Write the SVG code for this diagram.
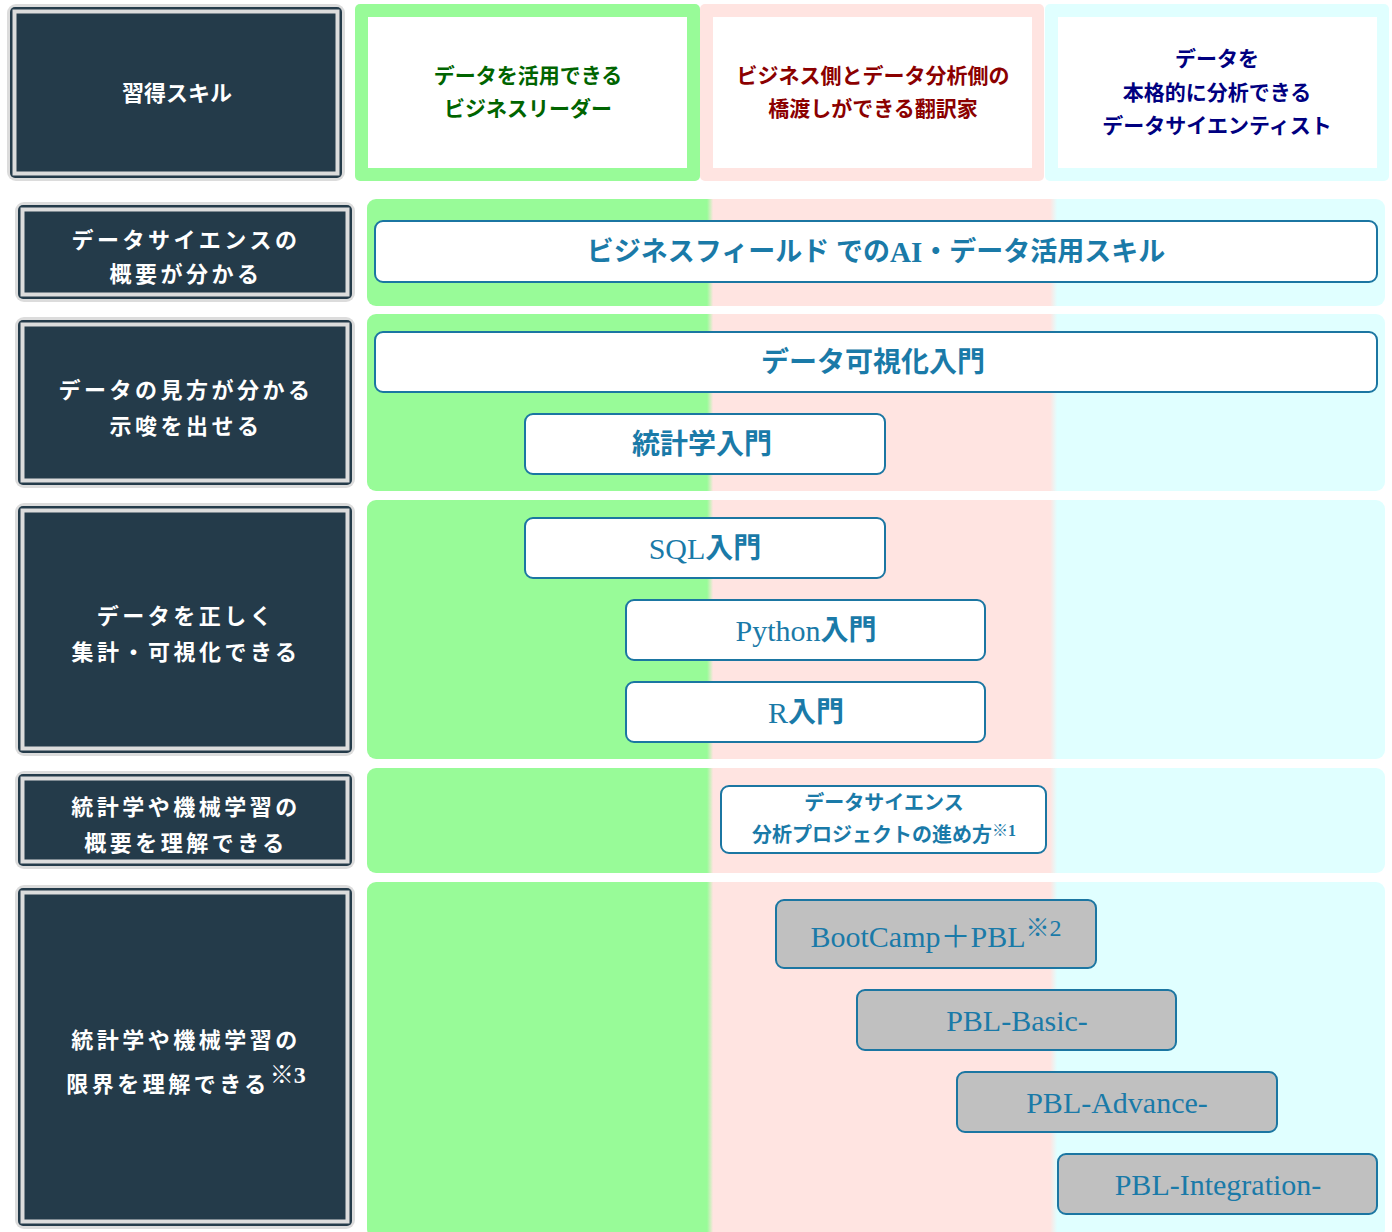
<svg xmlns="http://www.w3.org/2000/svg" width="1392" height="1232" viewBox="0 0 1392 1232">
<defs>
<linearGradient id="bg" gradientUnits="userSpaceOnUse" x1="367" y1="0" x2="1385" y2="0">
<stop offset="0" stop-color="#98fb98"/>
<stop offset="0.334" stop-color="#98fb98"/>
<stop offset="0.340" stop-color="#ffe4e1"/>
<stop offset="0.671" stop-color="#ffe4e1"/>
<stop offset="0.678" stop-color="#e0ffff"/>
<stop offset="1" stop-color="#e0ffff"/>
</linearGradient>
</defs>
<style>
.lo{fill:#dcdcdc}
.ld{fill:#243b4a}
.li{fill:#243b4a;stroke:#dcdcdc;stroke-width:4}
.lt{font-family:"Liberation Serif","Noto Sans CJK JP",serif;font-size:22px;font-weight:bold;fill:#fff;text-anchor:middle;dominant-baseline:central;letter-spacing:3.5px}
.band{fill:url(#bg)}
.bx{fill:#fff;stroke:#1b76a2;stroke-width:2}
.gx{fill:#c0c0c0;stroke:#1b76a2;stroke-width:2}
.bt{font-family:"Liberation Serif","Noto Sans CJK JP",serif;font-size:28px;font-weight:bold;fill:#1a7aa8;text-anchor:middle;dominant-baseline:central}
.lat{font-weight:normal;font-size:30px}
.gt{font-family:"Liberation Serif","Noto Sans CJK JP",serif;font-size:30px;fill:#1a7aa8;text-anchor:middle;dominant-baseline:central}
.ht{font-family:"Liberation Serif","Noto Sans CJK JP",serif;font-size:21px;font-weight:bold;text-anchor:middle;dominant-baseline:central}
</style>
<rect width="1392" height="1232" fill="#fff"/>

<g id="header-skill">
<rect class="lo" x="7" y="4" width="338" height="177" rx="9"/>
<rect class="ld" x="10" y="7" width="332" height="171" rx="5"/>
<rect class="li" x="14.5" y="11.5" width="323" height="162"/>
<text class="lt" x="177" y="93" style="letter-spacing:0">習得スキル</text>
</g>

<g id="header-leader">
<rect x="355" y="4" width="345" height="177" rx="5" fill="#98fb98"/>
<rect x="368" y="17" width="319" height="151" fill="#fff"/>
<text class="ht" fill="#006400" x="528" y="76">データを活用できる</text>
<text class="ht" fill="#006400" x="528" y="109">ビジネスリーダー</text>
</g>

<g id="header-translator">
<rect x="700" y="4" width="344" height="177" rx="5" fill="#ffe4e1"/>
<rect x="713" y="17" width="319" height="151" fill="#fff"/>
<text class="ht" fill="#8b0000" x="873" y="76">ビジネス側とデータ分析側の</text>
<text class="ht" fill="#8b0000" x="873" y="109">橋渡しができる翻訳家</text>
</g>

<g id="header-scientist">
<rect x="1045" y="4" width="344" height="177" rx="5" fill="#e0ffff"/>
<rect x="1058" y="17" width="319" height="151" fill="#fff"/>
<text class="ht" fill="#000080" x="1217" y="59">データを</text>
<text class="ht" fill="#000080" x="1217" y="93">本格的に分析できる</text>
<text class="ht" fill="#000080" x="1217" y="126">データサイエンティスト</text>
</g>

<g id="bands">
<rect class="band" x="367" y="199" width="1018" height="107" rx="9"/>
<rect class="band" x="367" y="314" width="1018" height="177" rx="9"/>
<rect class="band" x="367" y="500" width="1018" height="259" rx="9"/>
<rect class="band" x="367" y="768" width="1018" height="105" rx="9"/>
<rect class="band" x="367" y="882" width="1018" height="356" rx="9"/>
</g>

<g id="label-1">
<rect class="lo" x="15" y="202" width="340" height="100" rx="9"/>
<rect class="ld" x="18" y="205" width="334" height="94" rx="5"/>
<rect class="li" x="22.5" y="209.5" width="325" height="85"/>
<text class="lt" x="186" y="240">データサイエンスの</text>
<text class="lt" x="186" y="274">概要が分かる</text>
</g>

<g id="label-2">
<rect class="lo" x="15" y="317" width="340" height="171" rx="9"/>
<rect class="ld" x="18" y="320" width="334" height="165" rx="5"/>
<rect class="li" x="22.5" y="324.5" width="325" height="156"/>
<text class="lt" x="186" y="390">データの見方が分かる</text>
<text class="lt" x="186" y="426">示唆を出せる</text>
</g>

<g id="label-3">
<rect class="lo" x="15" y="503" width="340" height="253" rx="9"/>
<rect class="ld" x="18" y="506" width="334" height="247" rx="5"/>
<rect class="li" x="22.5" y="510.5" width="325" height="238"/>
<text class="lt" x="186" y="616">データを正しく</text>
<text class="lt" x="186" y="652">集計・可視化できる</text>
</g>

<g id="label-4">
<rect class="lo" x="15" y="771" width="340" height="98" rx="9"/>
<rect class="ld" x="18" y="774" width="334" height="92" rx="5"/>
<rect class="li" x="22.5" y="778.5" width="325" height="83"/>
<text class="lt" x="186" y="807">統計学や機械学習の</text>
<text class="lt" x="186" y="843">概要を理解できる</text>
</g>

<g id="label-5">
<rect class="lo" x="15" y="885" width="340" height="344" rx="9"/>
<rect class="ld" x="18" y="888" width="334" height="338" rx="5"/>
<rect class="li" x="22.5" y="892.5" width="325" height="329"/>
<text class="lt" x="186" y="1040">統計学や機械学習の</text>
<text class="lt" x="186" y="1084">限界を理解できる<tspan font-size="24" dy="-9" style="letter-spacing:0">※3</tspan></text>
</g>

<g id="course-business">
<rect class="bx" x="375" y="221" width="1002" height="61" rx="8"/>
<text class="bt" x="876" y="252" style="font-size:27px">ビジネスフィールド での<tspan style="font-size:29px">AI</tspan>・データ活用スキル</text>
</g>
<g id="course-visualization">
<rect class="bx" x="375" y="332" width="1002" height="60" rx="8"/>
<text class="bt" x="873" y="362">データ可視化入門</text>
</g>
<g id="course-statistics">
<rect class="bx" x="525" y="414" width="360" height="60" rx="8"/>
<text class="bt" x="702" y="444">統計学入門</text>
</g>
<g id="course-sql">
<rect class="bx" x="525" y="518" width="360" height="60" rx="8"/>
<text class="bt" x="705" y="548"><tspan class="lat">SQL</tspan>入門</text>
</g>
<g id="course-python">
<rect class="bx" x="626" y="600" width="359" height="60" rx="8"/>
<text class="bt" x="806" y="630"><tspan class="lat">Python</tspan>入門</text>
</g>
<g id="course-r">
<rect class="bx" x="626" y="682" width="359" height="60" rx="8"/>
<text class="bt" x="806" y="712"><tspan class="lat">R</tspan>入門</text>
</g>
<g id="course-project">
<rect class="bx" x="721" y="786" width="325" height="67" rx="8"/>
<text class="bt" x="884" y="803" style="font-size:20px">データサイエンス</text>
<text class="bt" x="884" y="835" style="font-size:20px">分析プロジェクトの進め方<tspan style="font-size:16px" dy="-5">※1</tspan></text>
</g>
<g id="course-bootcamp">
<rect class="gx" x="776" y="900" width="320" height="68" rx="8"/>
<text class="gt" x="936" y="936">BootCamp＋PBL<tspan font-size="24" dy="-8">※2</tspan></text>
</g>
<g id="course-pbl-basic">
<rect class="gx" x="857" y="990" width="319" height="60" rx="8"/>
<text class="gt" x="1017" y="1020">PBL-Basic-</text>
</g>
<g id="course-pbl-advance">
<rect class="gx" x="957" y="1072" width="320" height="60" rx="8"/>
<text class="gt" x="1117" y="1102">PBL-Advance-</text>
</g>
<g id="course-pbl-integration">
<rect class="gx" x="1058" y="1154" width="319" height="60" rx="8"/>
<text class="gt" x="1218" y="1184">PBL-Integration-</text>
</g>

<g id="connectors"></g>
</svg>
